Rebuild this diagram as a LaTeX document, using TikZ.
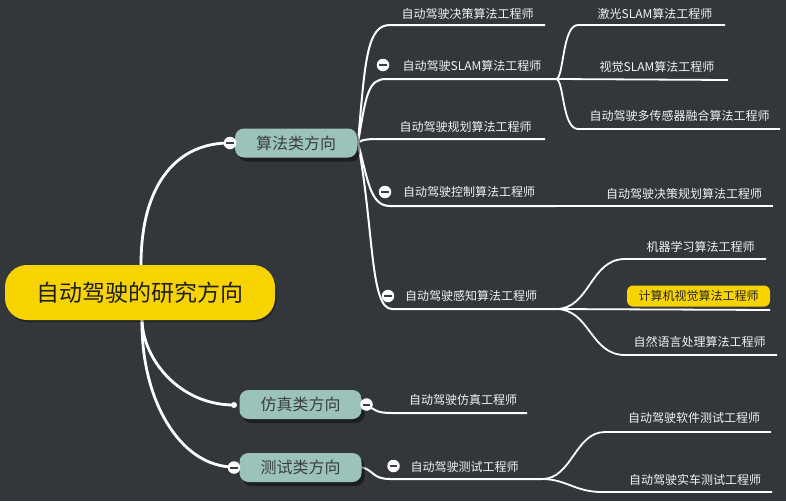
\documentclass[tikz,border=0pt]{standalone}
\usepackage{fontspec}
\setmainfont{Noto Sans CJK SC}
\usetikzlibrary{shadows}
\definecolor{bgcol}{HTML}{33373B}
\definecolor{goldcol}{HTML}{F7D400}
\definecolor{mintbox}{HTML}{9CC3B9}
\definecolor{boxtext}{HTML}{3B3E40}
\definecolor{lblcol}{HTML}{F2F2F2}
\tikzset{
  rootbox/.style={fill=goldcol, rounded corners=22pt, minimum width=270pt, minimum height=55pt,
    font=\fontsize{23}{27}\selectfont, text=black!88, inner sep=0pt,
    drop shadow={shadow xshift=1.5pt, shadow yshift=-2pt, fill=black, opacity=0.35}},
  catbox/.style={fill=mintbox, rounded corners=9pt, minimum width=122pt, minimum height=29pt,
    font=\fontsize{16}{19}\selectfont, text=boxtext, inner sep=0pt,
    drop shadow={shadow xshift=3pt, shadow yshift=-4pt, fill=black, opacity=0.45}},
  lab/.style={text=lblcol, font=\fontsize{12}{14}\selectfont, inner sep=0pt},
  hilite/.style={fill=goldcol, rounded corners=6pt, minimum width=143pt, minimum height=21pt,
    text=black!85, font=\fontsize{12}{14}\selectfont, inner sep=0pt},
  mainlink/.style={draw=white, line width=2.8pt},
  link/.style={draw=white, line width=2pt},
  sublink/.style={draw=white, line width=1.8pt},
  fold/.style={circle, fill=white, draw=none, minimum size=12.5pt, inner sep=0pt,
    path picture={\draw[line width=2pt, boxtext]
      ([xshift=-3.8pt]path picture bounding box.center) --
      ([xshift=3.8pt]path picture bounding box.center);}},
  dot/.style={circle, fill=white, draw=none, minimum size=6pt, inner sep=0pt},
}
\begin{document}
\begin{tikzpicture}[x=1pt, y=-1pt]
\fill[bgcol] (0,0) rectangle (786,501);
\useasboundingbox (0,0) rectangle (786,501);

% ---------- coordinates ----------
\coordinate (rootT) at (141,265);
\coordinate (rootB) at (142,320);
\coordinate (sfR) at (358,143);
% level 2 underline ends
\coordinate (jc0) at (390,25);  \coordinate (jc1) at (545,25);
\coordinate (sl0) at (386,79);  \coordinate (slH) at (556,79);
\coordinate (gh0) at (372,139); \coordinate (gh1) at (545,139);
\coordinate (kz0) at (390,206); \coordinate (kzH) at (556,206);
\coordinate (gz0) at (392,309); \coordinate (gzH) at (556,309);
% SLAM children
\coordinate (jg0) at (578,25);  \coordinate (jg1) at (725,25);
\coordinate (sj1) at (728,80);
\coordinate (dc0) at (578,129); \coordinate (dc1) at (780,129);
% control child
\coordinate (jcgh1) at (773,206);
% perception children
\coordinate (jq0) at (625,259); \coordinate (jq1) at (766,259);
\coordinate (js1) at (770,310);
\coordinate (zr0) at (625,355); \coordinate (zr1) at (777,355);
% simulation
\coordinate (fz0) at (392,413); \coordinate (fz1) at (527,413);
% test
\coordinate (cs0) at (390,479); \coordinate (csH) at (542,479);
\coordinate (rj0) at (605,432); \coordinate (rj1) at (771,432);
\coordinate (sc0) at (602,492); \coordinate (sc1) at (772,492);

% ---------- connectors ----------
\draw[mainlink] (rootT) .. controls (141,180) and (180,143) .. (229,143);
\draw[mainlink] (rootB) .. controls (143,360) and (180,405) .. (234,405);
\draw[mainlink] (rootB) .. controls (141,400) and (180,467) .. (234,467);

\draw[link] (sfR) .. controls (365,60) and (367,25) .. (jc0) -- (jc1);
\draw[link] (sfR) .. controls (366,95) and (368,79) .. (sl0) -- (slH);
\draw[link] (sfR) .. controls (362,140) .. (gh0) -- (gh1);
\draw[link] (sfR) .. controls (368,180) and (370,206) .. (kz0) -- (kzH);
\draw[link] (sfR) .. controls (374,230) and (370,309) .. (gz0) -- (gzH);

\draw[sublink] (slH) .. controls (564,79) and (562,25) .. (jg0) -- (jg1);
\draw[sublink] (slH) -- (sj1);
\draw[sublink] (slH) .. controls (564,79) and (562,129) .. (dc0) -- (dc1);

\draw[sublink] (kzH) -- (jcgh1);

\draw[sublink] (gzH) .. controls (590,309) and (590,259) .. (jq0) -- (jq1);
\draw[sublink] (gzH) -- (js1);
\draw[sublink] (gzH) .. controls (590,309) and (590,355) .. (zr0) -- (zr1);

\draw[link] (366,405) .. controls (376,410) and (376,413) .. (fz0) -- (fz1);
\draw[link] (361,467) .. controls (374,470) and (372,479) .. (cs0) -- (csH);
\draw[sublink] (csH) .. controls (572,479) and (575,432) .. (rj0) -- (rj1);
\draw[sublink] (csH) .. controls (566,479) and (575,492) .. (sc0) -- (sc1);

% ---------- nodes ----------
\node[rootbox] (root) at (140,292.5) {自动驾驶的研究方向};
\node[catbox] (suanfa) at (296,143) {算法类方向};
\node[catbox] (fangzhen) at (300.5,404.5) {仿真类方向};
\node[catbox] (ceshi) at (300.5,467.5) {测试类方向};

\node[fold] (f1) at (230,143) {};
\node[dot]  (f2) at (234,405) {};
\node[fold] (f3) at (366.5,404.5) {};
\node[fold] (f4) at (234,467.5) {};
\node[fold] (f5) at (383,65) {};
\node[fold] (f6) at (385,192) {};
\node[fold] (f7) at (388,296) {};
\node[fold] (f8) at (393.5,466) {};

\node[lab] (l1) at (467.5,14) {自动驾驶决策算法工程师};
\node[lab] (l2) at (472,66) {自动驾驶SLAM算法工程师};
\node[lab] (l3) at (465.5,127) {自动驾驶规划算法工程师};
\node[lab] (l4) at (469,192) {自动驾驶控制算法工程师};
\node[lab] (l5) at (471,296) {自动驾驶感知算法工程师};
\node[lab] (l6) at (655,14) {激光SLAM算法工程师};
\node[lab] (l7) at (657,67) {视觉SLAM算法工程师};
\node[lab] (l8) at (679.5,116) {自动驾驶多传感器融合算法工程师};
\node[lab] (l9) at (684,194) {自动驾驶决策规划算法工程师};
\node[lab] (l10) at (700.5,246.5) {机器学习算法工程师};
\node[hilite] (l11) at (698.5,296) {计算机视觉算法工程师};
\node[lab] (l12) at (699.5,342) {自然语言处理算法工程师};
\node[lab] (l13) at (463,400) {自动驾驶仿真工程师};
\node[lab] (l14) at (464.5,466.5) {自动驾驶测试工程师};
\node[lab] (l15) at (694,418) {自动驾驶软件测试工程师};
\node[lab] (l16) at (695,479.5) {自动驾驶实车测试工程师};
\end{tikzpicture}
\end{document}
